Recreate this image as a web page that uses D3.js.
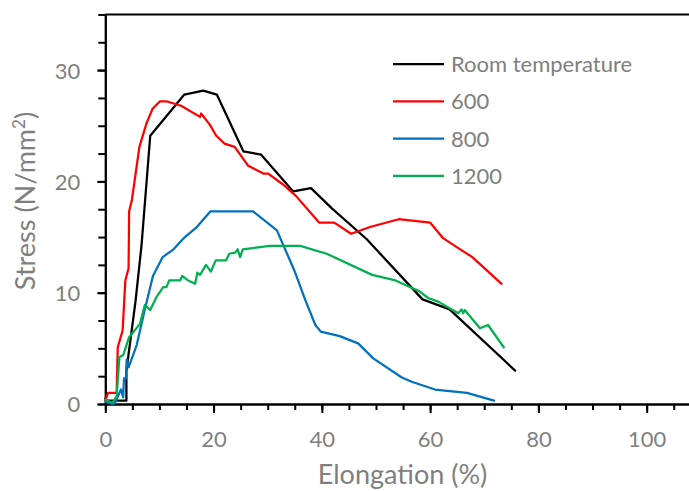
<!DOCTYPE html>
<html>
<head>
<meta charset="utf-8">
<script src="https://cdn.jsdelivr.net/npm/d3@7/dist/d3.min.js"></script>
<style>
  html, body { margin: 0; padding: 0; background: #fff; }
  svg { display: block; }
  text { font-family: Lato, "Open Sans", sans-serif; fill: #7f7f7f; }
</style>
</head>
<body>
<svg id="chart" width="689" height="491"></svg>
<script>
// Stress–elongation curves at different temperatures
const seriesNames = ["Room temperature", "600", "800", "1200"];
const seriesColors = ["#000000", "#ff0000", "#0070c0", "#00b050"];

const elongRoom = [0, 0.3, 3.9, 3.9, 5.6, 6.7, 8.3, 14.6, 18.1, 20.6, 25.5, 28.8, 34.7, 38.0, 41.8, 48.3, 58.6, 63.6, 75.7];
const stressRoom = [0.5, 0.3, 0.3, 3.0, 9.3, 14.3, 24.1, 27.8, 28.15, 27.8, 22.7, 22.4, 19.1, 19.4, 17.6, 14.8, 9.4, 8.5, 3.0];

const elong600 = [0, 0.5, 2.1, 2.3, 3.2, 3.7, 4.3, 4.4, 4.9, 6.3, 7.6, 8.7, 10.1, 11.3, 14.0, 17.5, 17.7, 19.3, 20.5, 22.0, 23.9, 26.4, 29.2, 30.1, 32.9, 35.2, 39.5, 42.3, 45.4, 48.9, 54.2, 60.0, 62.4, 65.2, 67.8, 73.2];
const stress600 = [0.3, 1.0, 1.0, 5.1, 6.6, 11.1, 12.2, 17.3, 18.3, 23.1, 25.2, 26.5, 27.2, 27.2, 26.8, 25.8, 26.1, 25.1, 24.1, 23.4, 23.1, 21.4, 20.7, 20.7, 19.7, 18.7, 16.3, 16.3, 15.3, 15.9, 16.6, 16.3, 14.9, 14.0, 13.2, 10.8];

const elong800 = [0, 1.3, 1.8, 2.9, 3.3, 3.45, 3.8, 3.95, 4.3, 5.8, 7.3, 8.8, 10.6, 12.6, 14.7, 16.9, 19.4, 27.3, 31.7, 35.0, 36.9, 38.8, 39.8, 43.3, 46.7, 49.5, 54.7, 56.6, 60.9, 66.8, 71.8];
const stress800 = [0.2, 0.0, 0.1, 1.3, 0.6, 2.3, 2.3, 4.0, 3.3, 5.3, 8.5, 11.5, 13.2, 13.9, 15.0, 15.9, 17.3, 17.3, 15.6, 11.9, 9.4, 7.1, 6.5, 6.1, 5.45, 4.1, 2.4, 2.0, 1.3, 1.0, 0.3];

const elong1200 = [0, 1.3, 2.1, 2.6, 3.3, 4.4, 6.4, 7.3, 8.3, 9.5, 10.7, 11.3, 11.8, 13.8, 14.2, 15.3, 16.6, 17.0, 17.5, 18.6, 19.5, 20.4, 22.3, 22.9, 24.0, 24.45, 24.9, 25.4, 30.4, 36.0, 40.9, 49.3, 53.6, 58.1, 59.7, 61.5, 65.2, 65.8, 66.1, 66.4, 69.2, 70.7, 73.6];
const stress1200 = [0.4, 0.1, 0.7, 4.2, 4.4, 6.0, 7.2, 8.9, 8.45, 9.65, 10.5, 10.5, 11.1, 11.1, 11.5, 11.1, 10.8, 11.8, 11.6, 12.5, 11.9, 12.9, 12.9, 13.5, 13.6, 13.9, 13.2, 13.9, 14.2, 14.2, 13.5, 11.6, 11.1, 10.1, 9.5, 9.2, 8.15, 8.5, 8.15, 8.45, 6.8, 7.1, 5.1];

const xMajorTicks = [0, 20, 40, 60, 80, 100];
const xMinorTicks = d3.range(0, 110, 5);
const yMajorTicks = [0, 10, 20, 30];
const yMinorTicks = d3.range(0, 35.01, 2.5);

const series = [
  { name: seriesNames[0], color: seriesColors[0], x: elongRoom, y: stressRoom },
  { name: seriesNames[1], color: seriesColors[1], x: elong600, y: stress600 },
  { name: seriesNames[2], color: seriesColors[2], x: elong800, y: stress800 },
  { name: seriesNames[3], color: seriesColors[3], x: elong1200, y: stress1200 }
];

const svg = d3.select("#chart");
const plotLeft = 105.3, plotTop = 14.45, plotBottom = 404, plotRight = 700.8;

const x = d3.scaleLinear().domain([0, 110]).range([plotLeft, plotRight]);
const y = d3.scaleLinear().domain([0, 35]).range([plotBottom, plotTop]);

// plot frame top edge
svg.append("line")
  .attr("x1", plotLeft).attr("x2", plotRight)
  .attr("y1", plotTop).attr("y2", plotTop)
  .attr("stroke", "#000").attr("stroke-width", 2);

// x axis: minor then major ticks
const gxMinor = svg.append("g").attr("transform", `translate(0,${plotBottom})`)
  .call(d3.axisBottom(x).tickValues(xMinorTicks).tickSize(6).tickSizeOuter(0).tickFormat(""));
const gx = svg.append("g").attr("transform", `translate(0,${plotBottom})`)
  .call(d3.axisBottom(x).tickValues(xMajorTicks).tickSize(9).tickSizeOuter(0).tickFormat(d3.format("d")));

// y axis: minor then major ticks
const gyMinor = svg.append("g").attr("transform", `translate(${plotLeft},0)`)
  .call(d3.axisLeft(y).tickValues(yMinorTicks).tickSize(7).tickSizeOuter(0).tickFormat(""));
const gy = svg.append("g").attr("transform", `translate(${plotLeft},0)`)
  .call(d3.axisLeft(y).tickValues(yMajorTicks).tickSize(8).tickSizeOuter(0).tickFormat(d3.format("d")));

[gxMinor, gx, gyMinor, gy].forEach(g => {
  g.select(".domain").attr("stroke", "#000").attr("stroke-width", 2);
  g.selectAll(".tick line").attr("stroke", "#000").attr("stroke-width", 2);
});

gx.selectAll(".tick text")
  .attr("y", 43).attr("dy", null)
  .style("font-size", "22px").style("fill", "#7f7f7f")
  .style("font-family", "Lato, 'Open Sans', sans-serif");
gy.selectAll(".tick text")
  .attr("x", -25).attr("dy", "0.36em")
  .style("font-size", "22px").style("fill", "#7f7f7f")
  .style("font-family", "Lato, 'Open Sans', sans-serif");

// axis titles
svg.append("text")
  .attr("x", 402.5).attr("y", 484)
  .attr("text-anchor", "middle")
  .style("font-size", "27px")
  .text("Elongation (%)");

const yTitle = svg.append("text")
  .attr("transform", "translate(35,201) rotate(-90)")
  .attr("text-anchor", "middle")
  .style("font-size", "27px");
yTitle.append("tspan").text("Stress (N/mm");
yTitle.append("tspan").attr("baseline-shift", "super").style("font-size", "17px").text("2");
yTitle.append("tspan").text(")");

// curves
const line = d3.line()
  .x(d => x(d[0]))
  .y(d => y(d[1]));

svg.append("g")
  .selectAll("path")
  .data(series)
  .join("path")
  .attr("d", s => line(s.x.map((v, i) => [v, s.y[i]])))
  .attr("fill", "none")
  .attr("stroke", s => s.color)
  .attr("stroke-width", 2.25)
  .attr("stroke-linejoin", "round")
  .attr("stroke-linecap", "round");

// legend
const legend = svg.append("g").attr("transform", "translate(393,64)");
const rows = legend.selectAll("g")
  .data(series)
  .join("g")
  .attr("transform", (d, i) => `translate(0,${i * 37.3})`);
rows.append("line")
  .attr("x1", 0).attr("x2", 51)
  .attr("stroke", d => d.color)
  .attr("stroke-width", 2.25);
rows.append("text")
  .attr("x", 58).attr("dy", "0.36em")
  .style("font-size", "22px")
  .text(d => d.name);
</script>
</body>
</html>
